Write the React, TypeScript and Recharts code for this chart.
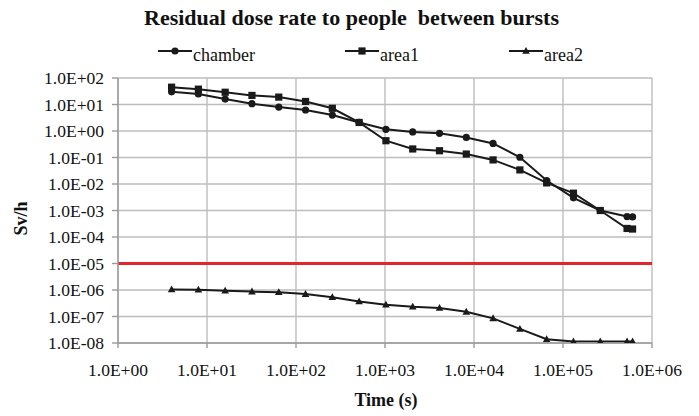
import React from 'react';
import {
  LineChart, Line, XAxis, YAxis, CartesianGrid, Legend, ReferenceLine,
} from 'recharts';

const times = [4, 8, 16, 32, 64, 128, 256, 512, 1024, 2048, 4096, 8192, 16384, 32768, 65536, 131072, 262144, 524288, 604800];
const chamber = [30, 25, 16, 10.7, 8, 6.2, 4.0, 2.1, 1.16, 0.92, 0.82, 0.57, 0.34, 0.102, 0.0135, 0.003, 0.001, 0.00059, 0.00057];
const area1 = [45, 38, 29, 22, 19, 13, 7.2, 2.1, 0.43, 0.21, 0.18, 0.135, 0.081, 0.034, 0.011, 0.0045, 0.001, 0.00021, 0.0002];
const area2 = [1.05e-6, 1.02e-6, 9.4e-7, 8.7e-7, 8.2e-7, 7.0e-7, 5.3e-7, 3.7e-7, 2.8e-7, 2.35e-7, 2.1e-7, 1.5e-7, 8.5e-8, 3.4e-8, 1.38e-8, 1.13e-8, 1.13e-8, 1.13e-8, 1.13e-8];
const xTicks = [1, 10, 100, 1000, 10000, 100000, 1000000];
const yTicks = [1e-8, 1e-7, 1e-6, 1e-5, 1e-4, 1e-3, 1e-2, 1e-1, 1, 10, 100];
const limit = 1e-5;
const seriesNames = ['chamber', 'area1', 'area2'];

const data = times.map((t, i) => ({ t, chamber: chamber[i], area1: area1[i], area2: area2[i] }));

const fmt = (v: number) => {
  const e = Math.round(Math.log10(v));
  return `1.0E${e < 0 ? '-' : '+'}${String(Math.abs(e)).padStart(2, '0')}`;
};

const FONT = '"Liberation Serif", "Times New Roman", serif';
const INK = '#1a1a1a';

const Marker = ({ kind, cx, cy }: { kind: string; cx: number; cy: number }) => {
  if (kind === 'chamber') return <circle cx={cx} cy={cy} r={3.6} fill={INK} />;
  if (kind === 'area1') return <rect x={cx - 3.6} y={cy - 3.6} width={7.2} height={7.2} fill={INK} />;
  return <polygon points={`${cx},${cy - 4} ${cx - 3.8},${cy + 2.8} ${cx + 3.8},${cy + 2.8}`} fill={INK} />;
};

const makeDot = (kind: string) => (p: any) => (
  <g key={`${kind}-${p.index}`}>
    {p.cx != null && p.cy != null ? <Marker kind={kind} cx={p.cx} cy={p.cy} /> : null}
  </g>
);

const LegendContent = () => (
  <div style={{ position: 'relative', height: 0 }}>
    <div style={{ position: 'absolute', left: 158, top: 0, display: 'flex', gap: 90, whiteSpace: 'nowrap' }}>
      {seriesNames.map((n) => (
        <div key={n} style={{ display: 'flex', alignItems: 'flex-start', height: 20 }}>
          <svg width={34} height={20} style={{ display: 'block' }}>
            <line x1={0} x2={34} y1={6} y2={6} stroke={INK} strokeWidth={2} />
            <Marker kind={n} cx={17} cy={6} />
          </svg>
          <span style={{ fontFamily: FONT, fontSize: 18, lineHeight: '20px', color: '#111', marginLeft: 1 }}>{n}</span>
        </div>
      ))}
    </div>
  </div>
);

export default function App() {
  return (
    <div style={{ position: 'absolute', left: 0, top: 0, width: 699, height: 416, background: '#fff' }}>
      <div style={{
        position: 'absolute', left: 0, width: 699, top: 5, textAlign: 'center',
        fontFamily: FONT, fontWeight: 'bold', fontSize: 22, lineHeight: '26px', color: '#111',
        whiteSpace: 'pre', paddingLeft: 4, boxSizing: 'border-box',
      }}>
        {'Residual dose rate to people  between bursts'}
      </div>
      <LineChart width={699} height={416} data={data} margin={{ top: 78, right: 47, left: 38, bottom: 43 }}>
        <CartesianGrid stroke="#bdbdbd" strokeWidth={1.4} />
        <XAxis
          dataKey="t" type="number" scale="log" domain={[1, 1000000]} ticks={xTicks}
          tickFormatter={fmt} height={30} tickSize={5} tickMargin={16}
          stroke="#9a9a9a" strokeWidth={1.4}
          tick={{ fill: '#111', fontFamily: FONT, fontSize: 17.5 }}
          interval={0}
          label={{
            content: (p: any) => {
              const vb = p.viewBox;
              return (
                <text x={vb.x + vb.width / 2 + 1} y={406} textAnchor="middle"
                  fontFamily={FONT} fontWeight="bold" fontSize={18} fill="#111">Time (s)</text>
              );
            },
          }}
        />
        <YAxis
          type="number" scale="log" domain={[1e-8, 100]} ticks={yTicks}
          tickFormatter={fmt} width={80} tickSize={6} tickMargin={8}
          stroke="#9a9a9a" strokeWidth={1.4}
          tick={{ fill: '#111', fontFamily: FONT, fontSize: 17.5 }}
          interval={0} allowDataOverflow
          label={{
            content: (p: any) => {
              const vb = p.viewBox;
              const cx = 21;
              const cy = vb.y + vb.height / 2 + 8;
              return (
                <text x={cx} y={cy} textAnchor="middle" dominantBaseline="central"
                  transform={`rotate(-90, ${cx}, ${cy})`}
                  fontFamily={FONT} fontWeight="bold" fontSize={18} fill="#111">Sv/h</text>
              );
            },
          }}
        />
        <Legend verticalAlign="top" content={<LegendContent />}
          wrapperStyle={{ position: 'absolute', left: 0, top: 45, width: 699, height: 0 }} />
        <ReferenceLine y={limit} stroke="#e3262b" strokeWidth={3} />
        <Line dataKey="chamber" name="chamber" stroke={INK} strokeWidth={2} dot={makeDot('chamber')} isAnimationActive={false} />
        <Line dataKey="area1" name="area1" stroke={INK} strokeWidth={2} dot={makeDot('area1')} isAnimationActive={false} />
        <Line dataKey="area2" name="area2" stroke={INK} strokeWidth={2} dot={makeDot('area2')} isAnimationActive={false} />
      </LineChart>
    </div>
  );
}
